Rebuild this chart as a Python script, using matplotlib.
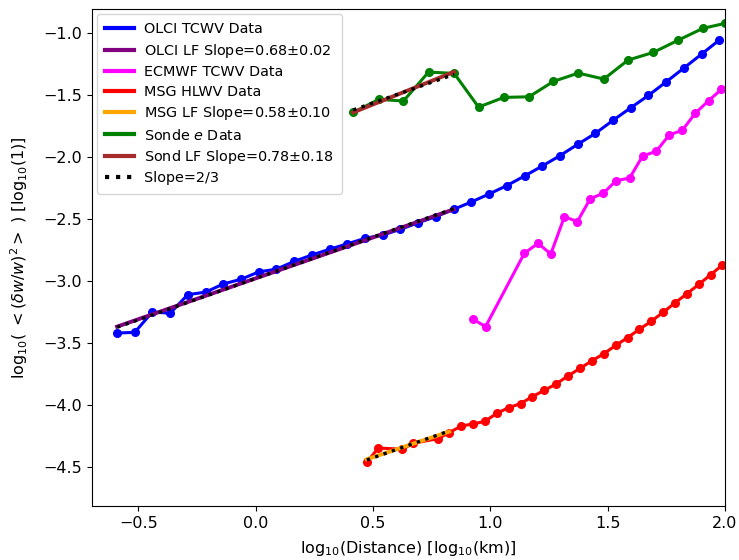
#!/usr/bin/env python

import matplotlib
matplotlib.use('Agg')

import matplotlib.pyplot as plt
from matplotlib.lines import Line2D

plt.rcParams['font.size'] = 11.5

#---------------------------------- structure function data (log10)

olci_x = [-0.590, -0.515, -0.440, -0.364, -0.289, -0.213, -0.138, -0.062,
          0.013, 0.089, 0.164, 0.240, 0.315, 0.391, 0.466, 0.542, 0.617,
          0.693, 0.768, 0.844, 0.919, 0.995, 1.070, 1.146, 1.221, 1.297,
          1.372, 1.448, 1.523, 1.599, 1.674, 1.750, 1.825, 1.901, 1.976]
olci_y = [-3.420, -3.414, -3.250, -3.260, -3.110, -3.090, -3.024, -2.986,
          -2.927, -2.904, -2.842, -2.790, -2.744, -2.700, -2.656, -2.629,
          -2.583, -2.530, -2.481, -2.422, -2.363, -2.298, -2.231, -2.153,
          -2.073, -1.989, -1.898, -1.809, -1.704, -1.602, -1.503, -1.393,
          -1.282, -1.169, -1.056]

ecmwf_x = [0.925, 0.980, 1.145, 1.203, 1.258, 1.316, 1.371, 1.426, 1.481,
           1.536, 1.594, 1.649, 1.707, 1.762, 1.819, 1.873, 1.930, 1.985]
ecmwf_y = [-3.306, -3.368, -2.777, -2.696, -2.782, -2.481, -2.521, -2.336,
           -2.293, -2.191, -2.169, -1.992, -1.954, -1.823, -1.782, -1.648,
           -1.546, -1.454]

msg_x = [0.474, 0.523, 0.625, 0.672, 0.776, 0.825, 0.877, 0.927, 0.977,
         1.028, 1.078, 1.129, 1.179, 1.230, 1.280, 1.331, 1.383, 1.432,
         1.484, 1.535, 1.585, 1.635, 1.686, 1.738, 1.787, 1.838, 1.889,
         1.939, 1.988]
msg_y = [-4.462, -4.347, -4.357, -4.309, -4.272, -4.223, -4.169, -4.153,
         -4.132, -4.067, -4.022, -3.989, -3.933, -3.882, -3.831, -3.766,
         -3.704, -3.645, -3.586, -3.519, -3.457, -3.390, -3.325, -3.250,
         -3.177, -3.102, -3.027, -2.949, -2.873]

sonde_x = [0.416, 0.525, 0.630, 0.737, 0.846, 0.950, 1.058, 1.165, 1.269,
           1.375, 1.484, 1.587, 1.695, 1.799, 1.906, 2.000]
sonde_y = [-1.640, -1.535, -1.548, -1.315, -1.325, -1.597, -1.519, -1.514,
           -1.390, -1.323, -1.371, -1.218, -1.156, -1.059, -0.962, -0.922]

# linear fits (end points)
olci_fit_x = [-0.590, 0.844]
olci_fit_y = [-3.368, -2.422]
msg_fit_x = [0.474, 0.825]
msg_fit_y = [-4.438, -4.215]
sonde_fit_x = [0.416, 0.846]
sonde_fit_y = [-1.640, -1.313]

ref_slope = 2.0 / 3.0


def ref_line(fx, fy):
    # slope=2/3 line through the middle of a fit
    xm = 0.5 * (fx[0] + fx[1])
    ym = 0.5 * (fy[0] + fy[1])
    return fx, [ym + ref_slope * (x - xm) for x in fx]


fig = plt.figure(figsize=(7.39, 5.6), dpi=100)
ax = fig.add_axes([0.1245, 0.0964, 0.8565, 0.8875])

lw = 2.2
ms = 5.5

ax.plot(olci_x, olci_y, '-o', color='blue', lw=lw, ms=ms)
ax.plot(olci_fit_x, olci_fit_y, '-', color='purple', lw=lw + 0.6)
ax.plot(*ref_line(olci_fit_x, olci_fit_y), ':', color='black', lw=2.4)

ax.plot(ecmwf_x, ecmwf_y, '-o', color='magenta', lw=lw, ms=ms)

ax.plot(msg_x, msg_y, '-o', color='red', lw=lw, ms=ms)
ax.plot(msg_fit_x, msg_fit_y, '-', color='orange', lw=lw + 0.6)
ax.plot(*ref_line(msg_fit_x, msg_fit_y), ':', color='black', lw=2.4)

ax.plot(sonde_x, sonde_y, '-o', color='green', lw=lw, ms=ms)
ax.plot(sonde_fit_x, sonde_fit_y, '-', color='brown', lw=lw + 0.6)
ax.plot(*ref_line(sonde_fit_x, sonde_fit_y), ':', color='black', lw=2.4)

ax.set_xlim(-0.697, 2.0)
ax.set_ylim(-4.815, -0.806)
ax.set_xticks([-0.5, 0.0, 0.5, 1.0, 1.5, 2.0])
ax.set_yticks([-4.5, -4.0, -3.5, -3.0, -2.5, -2.0, -1.5, -1.0])

ax.set_xlabel(r'log$_{10}$(Distance) [log$_{10}$(km)]', labelpad=6)
ax.set_ylabel(r'log$_{10}$( $<(\delta w/w)^2>$ ) [log$_{10}$(1)]', labelpad=10)

labels = ['OLCI TCWV Data', 'OLCI LF Slope=0.68$\\pm$0.02',
          'ECMWF TCWV Data', 'MSG HLWV Data', 'MSG LF Slope=0.58$\\pm$0.10',
          'Sonde $e$ Data', 'Sond LF Slope=0.78$\\pm$0.18', 'Slope=2/3']
colors = ['blue', 'purple', 'magenta', 'red', 'orange', 'green', 'brown',
          'black']
handles = [Line2D([], [], color=c, lw=3) for c in colors[:-1]]
handles.append(Line2D([], [], color='black', lw=3, ls=':'))
ax.legend(handles, labels, loc='upper left', fontsize=10.4,
          handlelength=2.0, handletextpad=0.7, labelspacing=0.375,
          borderpad=0.58, borderaxespad=0.35)

fig.savefig('out.png', dpi=100)
